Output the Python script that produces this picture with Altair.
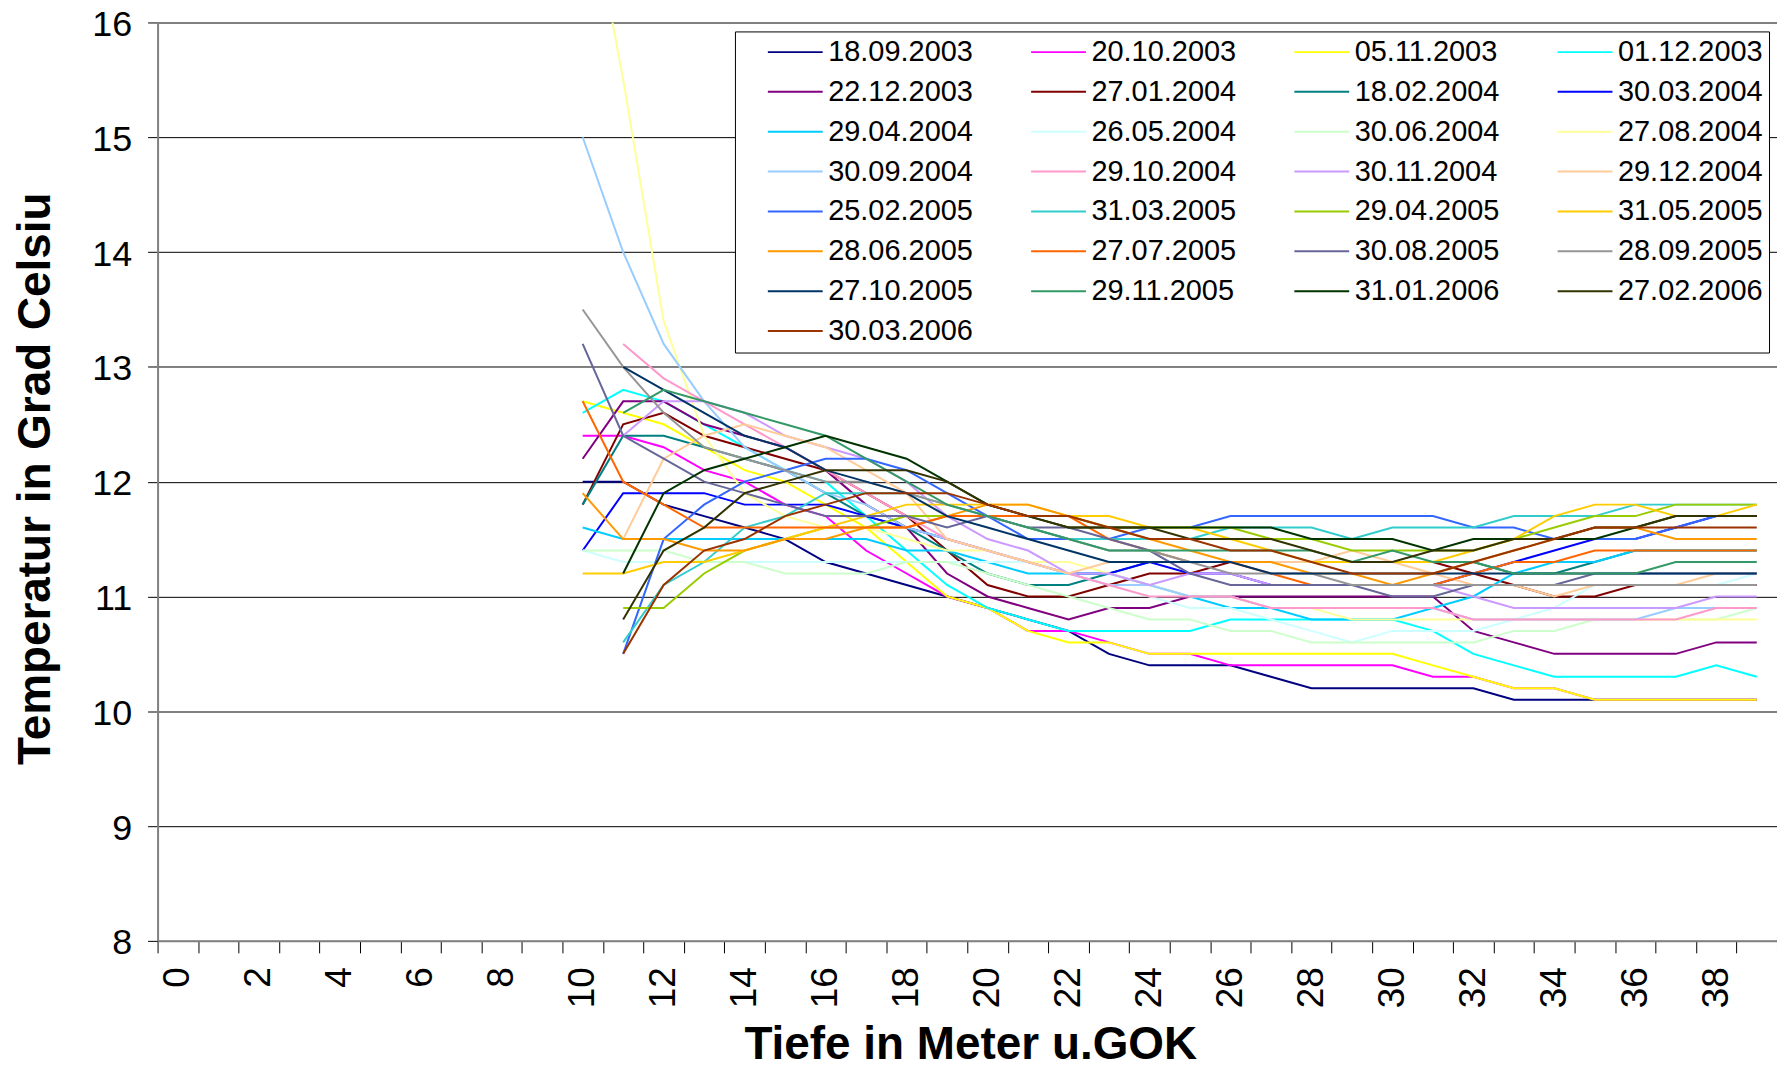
import altair as alt
import pandas as pd

depths = list(range(10, 40))
x_categories = list(range(0, 40))
y_ticks = [8, 9, 10, 11, 12, 13, 14, 15, 16]

dates = ["18.09.2003", "20.10.2003", "05.11.2003", "01.12.2003",
         "22.12.2003", "27.01.2004", "18.02.2004", "30.03.2004",
         "29.04.2004", "26.05.2004", "30.06.2004", "27.08.2004",
         "30.09.2004", "29.10.2004", "30.11.2004", "29.12.2004",
         "25.02.2005", "31.03.2005", "29.04.2005", "31.05.2005",
         "28.06.2005", "27.07.2005", "30.08.2005", "28.09.2005",
         "27.10.2005", "29.11.2005", "31.01.2006", "27.02.2006",
         "30.03.2006"]

colors = ["#000080", "#FF00FF", "#FFFF00", "#00FFFF",
          "#800080", "#800000", "#008080", "#0000FF",
          "#00CCFF", "#CCFFFF", "#CCFFCC", "#FFFF99",
          "#99CCFF", "#FF99CC", "#CC99FF", "#FFCC99",
          "#3366FF", "#33CCCC", "#99CC00", "#FFCC00",
          "#FF9900", "#FF6600", "#666699", "#969696",
          "#003366", "#339966", "#003300", "#333300",
          "#993300"]

# temperatures for depths 10..39 (None = no measurement)
s01 = [12.0, 12.0, 11.8, 11.7, 11.6, 11.5, 11.3, 11.2, 11.1, 11.0, 10.9, 10.8, 10.7, 10.5, 10.4, 10.4, 10.4, 10.3, 10.2, 10.2, 10.2, 10.2, 10.2, 10.1, 10.1, 10.1, 10.1, 10.1, 10.1, 10.1]
s02 = [12.4, 12.4, 12.3, 12.1, 12.0, 11.8, 11.7, 11.4, 11.2, 11.0, 10.9, 10.7, 10.7, 10.6, 10.5, 10.5, 10.4, 10.4, 10.4, 10.4, 10.4, 10.3, 10.3, 10.2, 10.2, 10.1, 10.1, 10.1, 10.1, 10.1]
s03 = [12.7, 12.6, 12.5, 12.3, 12.1, 12.0, 11.8, 11.6, 11.3, 11.0, 10.9, 10.7, 10.6, 10.6, 10.5, 10.5, 10.5, 10.5, 10.5, 10.5, 10.5, 10.4, 10.3, 10.2, 10.2, 10.1, 10.1, 10.1, 10.1, 10.1]
s04 = [12.6, 12.8, 12.7, 12.5, 12.3, 12.1, 12.0, 11.7, 11.4, 11.1, 10.9, 10.8, 10.7, 10.7, 10.7, 10.7, 10.8, 10.8, 10.8, 10.8, 10.8, 10.7, 10.5, 10.4, 10.3, 10.3, 10.3, 10.3, 10.4, 10.3]
s05 = [12.2, 12.7, 12.7, 12.5, 12.4, 12.3, 12.1, 11.8, 11.6, 11.2, 11.0, 10.9, 10.8, 10.9, 10.9, 11.0, 11.0, 11.0, 11.0, 11.0, 11.0, 11.0, 10.7, 10.6, 10.5, 10.5, 10.5, 10.5, 10.6, 10.6]
s06 = [11.8, 12.5, 12.6, 12.4, 12.3, 12.2, 12.1, 11.9, 11.7, 11.4, 11.1, 11.0, 11.0, 11.1, 11.2, 11.2, 11.3, 11.3, 11.3, 11.3, 11.3, 11.3, 11.2, 11.1, 11.0, 11.0, 11.1, 11.1, 11.1, 11.1]
s07 = [11.8, 12.4, 12.4, 12.3, 12.2, 12.1, 11.9, 11.7, 11.6, 11.4, 11.2, 11.1, 11.1, 11.2, 11.3, 11.3, 11.3, 11.3, 11.3, 11.3, 11.3, 11.3, 11.3, 11.2, 11.2, 11.3, 11.4, 11.4, 11.4, 11.4]
s08 = [11.4, 11.9, 11.9, 11.9, 11.8, 11.8, 11.8, 11.7, 11.6, 11.5, 11.4, 11.3, 11.2, 11.2, 11.3, 11.2, 11.2, 11.1, 11.1, 11.1, 11.1, 11.1, 11.2, 11.3, 11.4, 11.5, 11.5, 11.6, 11.7, 11.7]
s09 = [11.6, 11.5, 11.5, 11.5, 11.5, 11.5, 11.5, 11.5, 11.4, 11.4, 11.3, 11.2, 11.2, 11.2, 11.1, 11.0, 10.9, 10.9, 10.8, 10.8, 10.8, 10.9, 11.0, 11.2, 11.3, 11.3, 11.4, 11.4, 11.4, 11.4]
s10 = [11.4, 11.3, 11.3, 11.3, 11.3, 11.3, 11.3, 11.3, 11.3, 11.3, 11.3, 11.3, 11.2, 11.1, 11.0, 10.9, 10.9, 10.8, 10.7, 10.6, 10.7, 10.7, 10.7, 10.8, 10.9, 11.1, 11.1, 11.1, 11.1, 11.2]
s11 = [11.4, 11.4, 11.4, 11.3, 11.3, 11.2, 11.2, 11.2, 11.3, 11.3, 11.2, 11.1, 11.0, 10.9, 10.8, 10.8, 10.7, 10.7, 10.6, 10.6, 10.6, 10.6, 10.6, 10.7, 10.7, 10.8, 10.8, 10.8, 10.8, 10.9]
s12 = [17.4, 15.5, 13.4, 12.4, 11.9, 11.7, 11.6, 11.6, 11.5, 11.4, 11.4, 11.3, 11.3, 11.2, 11.1, 11.0, 11.0, 10.9, 10.9, 10.8, 10.8, 10.8, 10.8, 10.8, 10.8, 10.8, 10.8, 10.8, 10.8, 10.8]
s13 = [15.0, 14.0, 13.2, 12.7, 12.3, 12.1, 11.9, 11.8, 11.6, 11.5, 11.4, 11.3, 11.2, 11.1, 11.1, 11.0, 11.0, 10.9, 10.9, 10.9, 10.9, 10.9, 10.8, 10.8, 10.8, 10.8, 10.8, 10.9, 10.9, 10.9]
s14 = [None, 13.2, 12.9, 12.7, 12.5, 12.3, 12.1, 11.9, 11.7, 11.5, 11.4, 11.3, 11.2, 11.1, 11.0, 11.0, 11.0, 10.9, 10.9, 10.9, 10.9, 10.9, 10.8, 10.8, 10.8, 10.8, 10.8, 10.8, 10.9, 10.9]
s15 = [None, 12.4, 12.7, 12.7, 12.6, 12.4, 12.3, 12.2, 12.0, 11.7, 11.5, 11.4, 11.2, 11.2, 11.1, 11.2, 11.2, 11.1, 11.1, 11.1, 11.1, 11.1, 11.0, 10.9, 10.9, 10.9, 10.9, 10.9, 11.0, 11.0]
s16 = [None, 11.5, 12.2, 12.4, 12.5, 12.4, 12.3, 12.1, 11.9, 11.5, 11.4, 11.3, 11.2, 11.3, 11.3, 11.3, 11.3, 11.3, 11.3, 11.4, 11.3, 11.2, 11.1, 11.1, 11.0, 11.1, 11.1, 11.1, 11.2, 11.2]
s17 = [None, 10.5, 11.5, 11.8, 12.0, 12.1, 12.2, 12.2, 12.1, 11.9, 11.7, 11.5, 11.5, 11.5, 11.6, 11.6, 11.7, 11.7, 11.7, 11.7, 11.7, 11.7, 11.6, 11.6, 11.5, 11.5, 11.5, 11.6, 11.7, 11.7]
s18 = [None, 10.6, 11.1, 11.3, 11.6, 11.7, 11.9, 11.9, 11.9, 11.8, 11.7, 11.6, 11.5, 11.5, 11.5, 11.5, 11.6, 11.6, 11.6, 11.5, 11.6, 11.6, 11.6, 11.7, 11.7, 11.7, 11.8, 11.8, 11.8, 11.8]
s19 = [None, 10.9, 10.9, 11.2, 11.4, 11.5, 11.6, 11.6, 11.7, 11.7, 11.7, 11.7, 11.7, 11.6, 11.6, 11.6, 11.6, 11.5, 11.5, 11.4, 11.4, 11.4, 11.4, 11.5, 11.6, 11.7, 11.7, 11.8, 11.8, 11.8]
s20 = [11.2, 11.2, 11.3, 11.3, 11.4, 11.5, 11.6, 11.7, 11.8, 11.8, 11.8, 11.8, 11.7, 11.7, 11.6, 11.6, 11.5, 11.4, 11.3, 11.3, 11.3, 11.3, 11.4, 11.5, 11.7, 11.8, 11.8, 11.7, 11.7, 11.8]
s21 = [11.9, 11.5, 11.5, 11.4, 11.4, 11.5, 11.5, 11.6, 11.6, 11.7, 11.8, 11.8, 11.7, 11.6, 11.5, 11.4, 11.3, 11.3, 11.2, 11.2, 11.1, 11.2, 11.3, 11.4, 11.5, 11.6, 11.6, 11.5, 11.5, 11.5]
s22 = [12.7, 12.0, 11.8, 11.6, 11.6, 11.6, 11.6, 11.6, 11.6, 11.7, 11.7, 11.7, 11.7, 11.5, 11.4, 11.3, 11.3, 11.2, 11.1, 11.1, 11.1, 11.1, 11.2, 11.3, 11.3, 11.4, 11.4, 11.4, 11.4, 11.4]
s23 = [13.2, 12.4, 12.2, 12.0, 11.9, 11.8, 11.7, 11.7, 11.7, 11.6, 11.7, 11.6, 11.6, 11.5, 11.4, 11.2, 11.1, 11.1, 11.1, 11.1, 11.0, 11.0, 11.1, 11.1, 11.1, 11.2, 11.2, 11.2, 11.2, 11.2]
s24 = [13.5, 13.0, 12.6, 12.3, 12.2, 12.1, 12.0, 12.0, 11.9, 11.8, 11.7, 11.6, 11.5, 11.4, 11.4, 11.3, 11.2, 11.2, 11.2, 11.1, 11.1, 11.1, 11.1, 11.1, 11.1, 11.1, 11.1, 11.1, 11.1, 11.1]
s25 = [None, 13.0, 12.8, 12.6, 12.4, 12.3, 12.1, 12.0, 11.9, 11.7, 11.6, 11.5, 11.4, 11.3, 11.3, 11.3, 11.3, 11.2, 11.2, 11.2, 11.2, 11.2, 11.2, 11.2, 11.2, 11.2, 11.2, 11.2, 11.2, 11.2]
s26 = [None, 12.6, 12.8, 12.7, 12.6, 12.5, 12.4, 12.2, 12.0, 11.8, 11.7, 11.6, 11.5, 11.4, 11.4, 11.4, 11.4, 11.4, 11.4, 11.3, 11.4, 11.3, 11.3, 11.2, 11.2, 11.2, 11.2, 11.3, 11.3, 11.3]
s27 = [None, 11.2, 11.9, 12.1, 12.2, 12.3, 12.4, 12.3, 12.2, 12.0, 11.8, 11.7, 11.6, 11.6, 11.6, 11.6, 11.6, 11.6, 11.5, 11.5, 11.5, 11.4, 11.5, 11.5, 11.5, 11.5, 11.6, 11.7, 11.7, 11.7]
s28 = [None, 10.8, 11.4, 11.6, 11.9, 12.0, 12.1, 12.1, 12.1, 12.0, 11.8, 11.7, 11.6, 11.6, 11.6, 11.5, 11.5, 11.5, 11.4, 11.3, 11.3, 11.4, 11.4, 11.5, 11.5, 11.6, 11.6, 11.7, 11.7, 11.7]
s29 = [None, 10.5, 11.1, 11.4, 11.5, 11.7, 11.8, 11.9, 11.9, 11.9, 11.8, 11.7, 11.7, 11.6, 11.5, 11.5, 11.4, 11.4, 11.3, 11.2, 11.2, 11.2, 11.3, 11.4, 11.5, 11.6, 11.6, 11.6, 11.6, 11.6]

series = [s01, s02, s03, s04, s05, s06, s07, s08, s09, s10, s11, s12, s13, s14,
          s15, s16, s17, s18, s19, s20, s21, s22, s23, s24, s25, s26, s27, s28, s29]

rows = []
for d, vals in zip(dates, series):
    for depth, v in zip(depths, vals):
        if v is not None:
            rows.append({"Datum": d, "Tiefe": depth, "Temp": v})
df = pd.DataFrame(rows)

FONT = "Liberation Sans"

chart = alt.Chart(df).mark_line(strokeWidth=2, clip=True).encode(
    x=alt.X("Tiefe:O",
            scale=alt.Scale(type="band", domain=x_categories, paddingInner=0, paddingOuter=0),
            axis=alt.Axis(title="Tiefe in Meter u.GOK", tickBand="extent", labelAngle=270,
                          labelExpr="datum.value % 2 == 0 ? datum.label : ''",
                          labelFont=FONT, labelFontSize=37, labelColor="#000000",
                          labelPadding=14, tickSize=12, tickColor="#000000", tickWidth=1,
                          domainColor="#808080", domainWidth=2, grid=False,
                          titleFont=FONT, titleFontSize=46, titleFontWeight="bold",
                          titleColor="#000000", titleX=815, titleY=118,
                          titleAlign="center", titleBaseline="alphabetic")),
    y=alt.Y("Temp:Q",
            scale=alt.Scale(domain=[8, 16], nice=False, zero=False),
            axis=alt.Axis(title="Temperatur in Grad Celsiu", values=y_ticks,
                          labelFont=FONT, labelFontSize=36, labelColor="#000000",
                          labelPadding=16, labelOffset=2, tickSize=10, tickColor="#000000",
                          tickWidth=1, domainColor="#808080", domainWidth=2,
                          grid=True,
                          gridColor={"condition": {"test": "datum.value === 16", "value": "#808080"},
                                     "value": "#000000"},
                          gridWidth={"condition": {"test": "datum.value === 16", "value": 2},
                                     "value": 1},
                          titleFont=FONT, titleFontSize=46, titleFontWeight="bold",
                          titleColor="#000000", titleAngle=270, titleX=-108, titleY=457,
                          titleAlign="center", titleBaseline="alphabetic")),
    color=alt.Color("Datum:N",
                    scale=alt.Scale(domain=dates, range=colors),
                    legend=alt.Legend(title=None, orient="none", legendX=579, legendY=9,
                                      direction="horizontal", columns=4, gridAlign="each",
                                      symbolType="M-2.5,0H2.5", symbolSize=484,
                                      symbolStrokeWidth=2, symbolOffset=40,
                                      labelFont=FONT, labelFontSize=29, labelColor="#000000",
                                      labelOffset=18.5, labelLimit=400,
                                      columnPadding=31, rowPadding=10,
                                      strokeColor="#000000", padding=6,
                                      fillColor="#FFFFFF")),
).properties(
    width=1624,
    height=921,
    padding={"left": 150, "top": 13, "right": 0, "bottom": 129},
    autosize=alt.AutoSizeParams(type="none"),
).configure_view(stroke="transparent")

chart.save("out.html", embed_options={"renderer": "svg", "actions": False})
